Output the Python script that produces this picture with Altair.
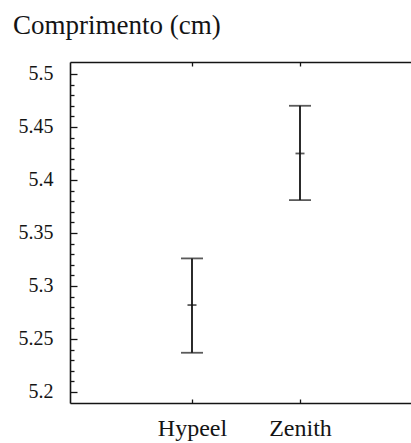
import json
import altair as alt
import pandas as pd

# ---- data ----
categories = ["Hypeel", "Zenith"]
positions = [1, 2]
means = [5.282, 5.425]
lower = [5.237, 5.381]
upper = [5.326, 5.470]

major_ticks = [5.2, 5.25, 5.3, 5.35, 5.4, 5.45, 5.5]
minor_ticks = [round(5.2 + 0.01 * i, 2) for i in range(31)]

df = pd.DataFrame({"cat": categories, "pos": positions, "mean": means,
                   "lo": lower, "hi": upper})

W, H = 341, 341
FONT = "Liberation Serif"
INK = "#141414"

xscale = alt.Scale(domain=[-0.1296, 3.0278], nice=False, zero=False)
yscale = alt.Scale(domain=[5.1896, 5.5113], nice=False, zero=False)

is_major = "abs(datum.value*20 - round(datum.value*20)) < 0.001"
cat_expr = json.dumps(categories) + "[round(datum.value) - 1]"

base = alt.Chart(df)

bars = base.mark_rule(color=INK, strokeWidth=1.8).encode(
    x=alt.X("pos:Q", scale=xscale,
            axis=alt.Axis(orient="bottom", values=positions, labelExpr=cat_expr,
                          title=None, grid=False, domain=True, domainColor=INK,
                          domainWidth=1.6, ticks=True, tickColor=INK, tickWidth=1.3,
                          tickSize={"expr": "-4"}, labelPadding=17,
                          labelFont=FONT, labelFontSize=24, labelColor=INK)),
    y=alt.Y("lo:Q", scale=yscale,
            axis=alt.Axis(orient="left", values=minor_ticks,
                          labelExpr=f"{is_major} ? format(datum.value, '.3~g') : ''",
                          title=None, grid=False, domain=True, domainColor=INK,
                          domainWidth=1.6, ticks=True, tickColor=INK, tickWidth=1.3,
                          tickSize={"expr": f"{is_major} ? -7 : -4"},
                          labelPadding=24, labelFont=FONT, labelFontSize=20,
                          labelColor=INK, labelBaseline="middle")),
    y2="hi:Q",
)

caps_hi = base.mark_tick(orient="horizontal", size=22, thickness=1.8, color=INK).encode(
    x=alt.X("pos:Q", scale=xscale,
            axis=alt.Axis(orient="top", values=positions, labels=False, title=None,
                          grid=False, domain=True, domainColor=INK, domainWidth=1.6,
                          ticks=True, tickColor=INK, tickWidth=1.3,
                          tickSize={"expr": "-4"})),
    y=alt.Y("hi:Q", scale=yscale, axis=None),
)

caps_lo = base.mark_tick(orient="horizontal", size=22, thickness=1.8, color=INK).encode(
    x=alt.X("pos:Q", scale=xscale, axis=None),
    y=alt.Y("lo:Q", scale=yscale, axis=None),
)

mid = base.mark_tick(orient="horizontal", size=9, thickness=1.8, color=INK).encode(
    x=alt.X("pos:Q", scale=xscale, axis=None),
    y=alt.Y("mean:Q", scale=yscale, axis=None),
)

chart = alt.layer(bars, caps_hi, caps_lo, mid).resolve_axis(
    x="independent", y="independent"
).properties(
    width=W, height=H,
    autosize=alt.AutoSizeParams(type="none"),
    padding={"left": 70, "top": 62, "right": 0, "bottom": 40},
    title=alt.TitleParams("Comprimento (cm)", anchor="start", frame="group",
                          dx=-57, dy=27, offset=27, baseline="alphabetic", font=FONT,
                          fontSize=27, fontWeight="normal", color=INK),
).configure_view(stroke=None).configure(background="white")

chart.save("out.html", embed_options={"renderer": "svg", "actions": False})
